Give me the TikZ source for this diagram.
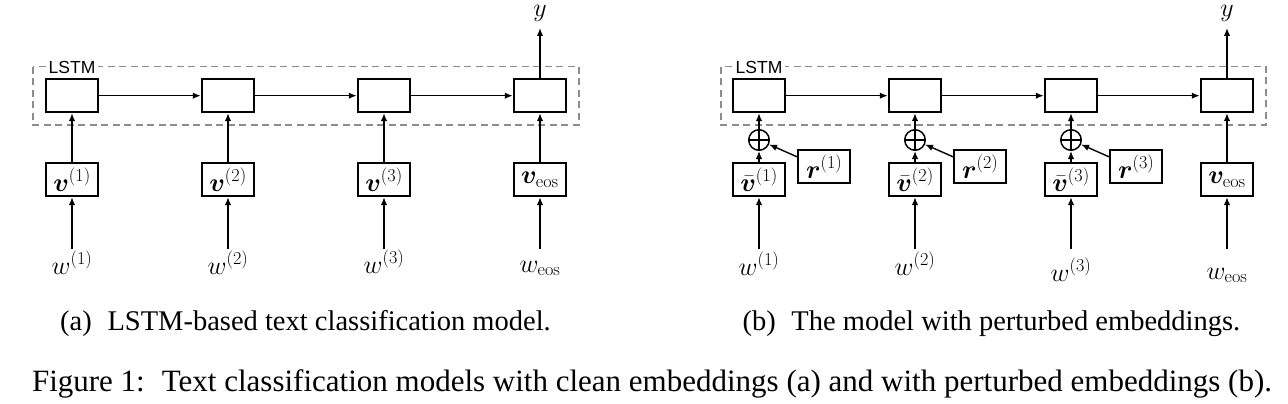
\RequirePackage{fix-cm}
\documentclass[tikz,border=0pt]{standalone}
\usepackage{amsmath}
\usepackage{bm}
\usepackage[no-math]{fontspec}
\setmainfont{Liberation Serif}
\newfontfamily\lsans{Liberation Sans}
\usetikzlibrary{arrows.meta,calc}
\definecolor{framegray}{RGB}{140,140,140}
\newcommand\mfont{\fontsize{26}{30}\selectfont}
\newcommand\capfont{\fontsize{28.5}{34}\selectfont}
\newcommand\figcapfont{\fontsize{31}{36}\selectfont}
\begin{document}
\begin{tikzpicture}[x=1pt,y=-1pt,
  cell/.style={draw, line width=2pt, minimum width=52.5pt, minimum height=33pt, inner sep=0pt, font=\mfont},
  arr/.style={-{Latex[length=8pt,width=6.5pt]}, line width=1.4pt},
  framebox/.style={draw=framegray, line width=1.5pt, dash pattern=on 7pt off 4.5pt},
  lbl/.style={fill=white, inner sep=3pt, font=\lsans\fontsize{17.5}{20}\selectfont},
  mlab/.style={inner sep=0pt, anchor=base, font=\mfont},
  opl/.style={circle, draw, line width=1.5pt, minimum size=20.5pt, inner sep=0pt,
    path picture={\draw[line width=1.5pt] (path picture bounding box.north) -- (path picture bounding box.south)
      (path picture bounding box.west) -- (path picture bounding box.east);}},
  captext/.style={anchor=base, inner sep=0pt, font=\capfont}]
\useasboundingbox (0,0) rectangle (1288,404);

% ---------- (a) ----------
\draw[framebox] (33,66.7) rectangle (579,125);
\node[lbl] (lstmA) at (72,67) {LSTM};
\node[cell] (la1) at (72,95.7) {};
\node[cell] (la2) at (228,95.7) {};
\node[cell] (la3) at (384,95.7) {};
\node[cell] (la4) at (540,95.7) {};
\node[cell] (va1) at (72,179.7) {$\bm{v}^{(1)}$};
\node[cell] (va2) at (228,179.7) {$\bm{v}^{(2)}$};
\node[cell] (va3) at (384,179.7) {$\bm{v}^{(3)}$};
\node[cell] (va4) at (540,179.7) {$\bm{v}_{\mathrm{eos}}$};
\node[mlab] (wa1) at (72,274) {$w^{(1)}$};
\node[mlab] (wa2) at (228,274) {$w^{(2)}$};
\node[mlab] (wa3) at (384,273) {$w^{(3)}$};
\begin{scope}
\clip (500,240) rectangle (580,280);
\node[mlab] (wa4) at (540,272) {$w_{\mathrm{eos}}$};
\end{scope}
\node[mlab] (ya) at (540,17) {$y$};
\coordinate (sa1) at (72,248.5);
\coordinate (sa2) at (228,248.5);
\coordinate (sa3) at (384,248.5);
\coordinate (sa4) at (540,248.5);
\coordinate (ta) at (540,28);
\foreach \i in {1,2,3,4} {
  \draw[arr] (sa\i) -- (va\i);
  \draw[arr] (va\i) -- (la\i);
}
\draw[arr] (la1) -- (la2);
\draw[arr] (la2) -- (la3);
\draw[arr] (la3) -- (la4);
\draw[arr] (la4) -- (ta);

% ---------- (b) ----------
\draw[framebox] (721,66.7) rectangle (1266,125);
\node[lbl] (lstmB) at (759,67) {LSTM};
\node[cell] (lb1) at (759,95.7) {};
\node[cell] (lb2) at (915,95.7) {};
\node[cell] (lb3) at (1071,95.7) {};
\node[cell] (lb4) at (1227,95.7) {};
\node[cell] (vb1) at (759,179.7) {$\bar{\bm{v}}^{(1)}$};
\node[cell] (vb2) at (915,179.7) {$\bar{\bm{v}}^{(2)}$};
\node[cell] (vb3) at (1071,179.7) {$\bar{\bm{v}}^{(3)}$};
\node[cell] (vb4) at (1227,179.7) {$\bm{v}_{\mathrm{eos}}$};
\node[opl] (cb1) at (759,140) {};
\node[opl] (cb2) at (915,140) {};
\node[opl] (cb3) at (1071,140) {};
\node[cell] (rb1) at (824.2,166.7) {$\bm{r}^{(1)}$};
\node[cell] (rb2) at (980.2,166.7) {$\bm{r}^{(2)}$};
\node[cell] (rb3) at (1136.2,166.7) {$\bm{r}^{(3)}$};
\node[mlab] (wb1) at (759,275) {$w^{(1)}$};
\node[mlab] (wb2) at (915,275) {$w^{(2)}$};
\node[mlab] (wb3) at (1071,281) {$w^{(3)}$};
\node[mlab] (wb4) at (1227,279) {$w_{\mathrm{eos}}$};
\node[mlab] (yb) at (1227,17) {$y$};
\coordinate (sb1) at (759,248.5);
\coordinate (sb2) at (915,248.5);
\coordinate (sb3) at (1071,248.5);
\coordinate (sb4) at (1227,248.5);
\coordinate (tb) at (1227,28);
\foreach \i in {1,2,3,4} {
  \draw[arr] (sb\i) -- (vb\i);
}
\foreach \i in {1,2,3} {
  \draw[arr] (vb\i) -- (cb\i);
  \draw[arr] (cb\i) -- (lb\i);
  \draw[arr] (rb\i.160) -- (cb\i);
}
\draw[arr] (vb4) -- (lb4);
\draw[arr] (lb1) -- (lb2);
\draw[arr] (lb2) -- (lb3);
\draw[arr] (lb3) -- (lb4);
\draw[arr] (lb4) -- (tb);

% ---------- captions ----------
\node[captext] (capa) at (305.5,330) {(a)\hspace{0.55em}LSTM-based text classification model.};
\node[captext] (capb) at (991.4,330) {(b)\hspace{0.55em}The model with perturbed embeddings.};
\node[captext, font=\figcapfont] (capm) at (652,391.7) {Figure 1:\hspace{0.55em}Text classification models with clean embeddings (a) and with perturbed embeddings (b).};
\end{tikzpicture}
\end{document}
